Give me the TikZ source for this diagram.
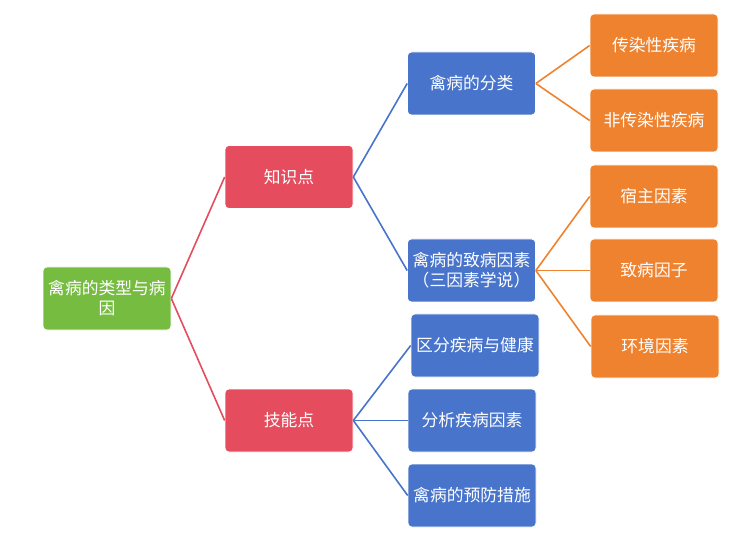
\documentclass[tikz,border=0pt]{standalone}
\usepackage{fontspec}
\setmainfont{Noto Sans CJK SC}
\tikzset{every picture/.style={line width=0.75pt}}
\tikzset{
  topic/.style={rounded corners=3pt, draw=white, line width=0.5pt, text=white, align=center,
    minimum width=96pt, minimum height=47.25pt, inner sep=1pt, font=\fontsize{12.6pt}{15pt}\selectfont},
  rootbox/.style={topic, fill={rgb, 255:red, 118; green, 188; blue, 65 }},
  levelone/.style={topic, fill={rgb, 255:red, 229; green, 77; blue, 94 }},
  leveltwo/.style={topic, fill={rgb, 255:red, 72; green, 116; blue, 203 }},
  levelthree/.style={topic, fill={rgb, 255:red, 238; green, 130; blue, 47 }},
  redlink/.style={draw={rgb, 255:red, 229; green, 77; blue, 94 }, line width=1.2pt},
  bluelink/.style={draw={rgb, 255:red, 72; green, 116; blue, 203 }, line width=1.2pt},
  orangelink/.style={draw={rgb, 255:red, 238; green, 130; blue, 47 }, line width=1.2pt}
}
\begin{document}
\begin{tikzpicture}[x=0.75pt,y=0.75pt,yscale=-1,xscale=1]
    \useasboundingbox (0,0) rectangle (746,538);

    % Root
    \node [rootbox] (root) at (107,298.5) {禽病的类型与病\\因};

    % Level one
    \node [levelone] (zsd) at (289,177) {知识点};
    \node [levelone] (jnd) at (289,420.5) {技能点};

    % Level two
    \node [leveltwo] (fenlei) at (471.5,83.5) {禽病的分类};
    \node [leveltwo] (yinsu) at (471.5,270.5) {禽病的致病因素\\（三因素学说）};
    \node [leveltwo] (qufen) at (475,345.5) {区分疾病与健康};
    \node [leveltwo] (fenxi) at (472,420.5) {分析疾病因素};
    \node [leveltwo] (yufang) at (472,495.5) {禽病的预防措施};

    % Level three
    \node [levelthree] (crx) at (654,45.5) {传染性疾病};
    \node [levelthree] (fcrx) at (654,120.5) {非传染性疾病};
    \node [levelthree] (suzhu) at (654,196.5) {宿主因素};
    \node [levelthree] (yinzi) at (654,270.5) {致病因子};
    \node [levelthree] (huanjing) at (655,346.5) {环境因素};

    % Connectors
    \draw [redlink] (root.east) -- (zsd.west);
    \draw [redlink] (root.east) -- (jnd.west);
    \draw [bluelink] (zsd.east) -- (fenlei.west);
    \draw [bluelink] (zsd.east) -- (yinsu.west);
    \draw [bluelink] (jnd.east) -- (qufen.west);
    \draw [bluelink] (jnd.east) -- (fenxi.west);
    \draw [bluelink] (jnd.east) -- (yufang.west);
    \draw [orangelink] (fenlei.east) -- (crx.west);
    \draw [orangelink] (fenlei.east) -- (fcrx.west);
    \draw [orangelink] (yinsu.east) -- (suzhu.west);
    \draw [orangelink] (yinsu.east) -- (yinzi.west);
    \draw [orangelink] (yinsu.east) -- (huanjing.west);

\end{tikzpicture}
\end{document}
